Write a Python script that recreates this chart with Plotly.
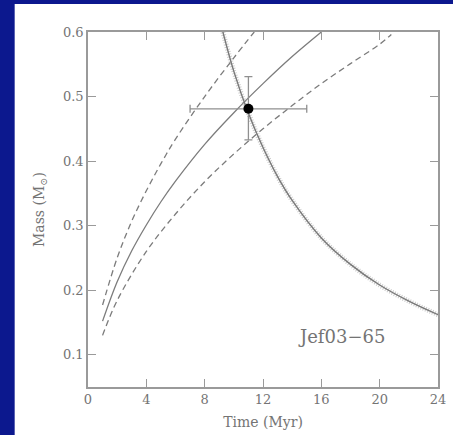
import plotly.graph_objects as go

# Mass-age tracks for Jef03-65
track_t = [1, 2, 3, 4, 5, 6, 8, 10, 12, 14, 16]
track_m = [0.152, 0.213, 0.261, 0.301, 0.337, 0.369, 0.426, 0.475, 0.520, 0.562, 0.600]

upper_t = [1, 2, 3, 4, 5, 6, 8, 10, 11.4]
upper_m = [0.177, 0.250, 0.307, 0.354, 0.396, 0.434, 0.500, 0.560, 0.600]

lower_t = [1, 2, 4, 6, 8, 10, 12, 14, 16, 18, 20, 20.8]
lower_m = [0.130, 0.184, 0.260, 0.318, 0.368, 0.411, 0.450, 0.486, 0.520, 0.551, 0.581, 0.596]

# Dynamical constraint curve
dyn_t = [9.25, 10, 11, 12, 13, 14, 16, 18, 20, 22, 24]
dyn_m = [0.600, 0.539, 0.474, 0.421, 0.376, 0.339, 0.281, 0.240, 0.208, 0.183, 0.162]

# Measured point with uncertainties
obj_t = [11.0]
obj_m = [0.481]
obj_t_err = [4.0]
obj_m_err_up = [0.050]
obj_m_err_dn = [0.048]

label_text = "Jef03\u221265"

x_ticks = [0, 4, 8, 12, 16, 20, 24]
y_ticks = [0.1, 0.2, 0.3, 0.4, 0.5, 0.6]

GRAY = "#7c7c7c"
TEXT = "#747474"
BLUE = "#0c188e"
FONT = "DejaVu Serif"

fig = go.Figure()

# hatched band of the dynamical curve
fig.add_trace(go.Scatter(x=dyn_t, y=dyn_m, mode="lines", line_shape="spline",
                         line=dict(color="#cccccc", width=5, dash="1px,1.5px"),
                         hoverinfo="skip", showlegend=False))
fig.add_trace(go.Scatter(x=dyn_t, y=dyn_m, mode="lines", line_shape="spline",
                         line=dict(color="#787878", width=1.4),
                         showlegend=False))

fig.add_trace(go.Scatter(x=track_t, y=track_m, mode="lines", line_shape="spline",
                         line=dict(color=GRAY, width=1.3), showlegend=False))
for tt, mm in ((upper_t, upper_m), (lower_t, lower_m)):
    fig.add_trace(go.Scatter(x=tt, y=mm, mode="lines", line_shape="spline",
                             line=dict(color=GRAY, width=1.3, dash="6px,4px"),
                             showlegend=False))

fig.add_trace(go.Scatter(
    x=obj_t, y=obj_m, mode="markers",
    marker=dict(color="black", size=10),
    error_x=dict(type="data", array=obj_t_err, color="#909090", thickness=1.3, width=4),
    error_y=dict(type="data", array=obj_m_err_up, arrayminus=obj_m_err_dn,
                 color="#909090", thickness=1.3, width=4),
    showlegend=False))

fig.add_annotation(x=17.4, y=0.128, text=label_text, showarrow=False,
                   font=dict(family=FONT, size=18, color=TEXT))

# blue slide border around the white panel (left and top strips)
fig.add_shape(type="rect", xref="paper", yref="paper",
              x0=-0.3, x1=-0.2095, y0=-0.2, y1=1.2,
              fillcolor=BLUE, line=dict(width=0), layer="below")
fig.add_shape(type="rect", xref="paper", yref="paper",
              x0=-0.3, x1=1.1, y0=1.0787, y1=1.2,
              fillcolor=BLUE, line=dict(width=0), layer="below")

axis_common = dict(showgrid=False, zeroline=False, showline=True, linecolor="#9a9a9a",
                   linewidth=1.5, mirror="allticks", ticks="inside", ticklen=8,
                   tickwidth=1.2, tickcolor="#9a9a9a",
                   tickfont=dict(family=FONT, size=13, color=TEXT))

fig.update_xaxes(range=[0, 24], tickvals=x_ticks, ticktext=[str(v) for v in x_ticks],
                 title=dict(text="Time (Myr)", font=dict(family=FONT, size=14, color=TEXT),
                            standoff=11),
                 **axis_common)
fig.update_yaxes(range=[0.05, 0.6], tickvals=y_ticks, ticktext=[f"{v:.1f}" for v in y_ticks],
                 title=dict(text="Mass (M<sub>\u2299</sub>)",
                            font=dict(family=FONT, size=14, color=TEXT), standoff=15),
                 **axis_common)

fig.update_layout(width=453, height=435,
                  margin=dict(l=88, r=7, t=32, b=47),
                  paper_bgcolor="white", plot_bgcolor="white")

fig.write_html("out.html")
